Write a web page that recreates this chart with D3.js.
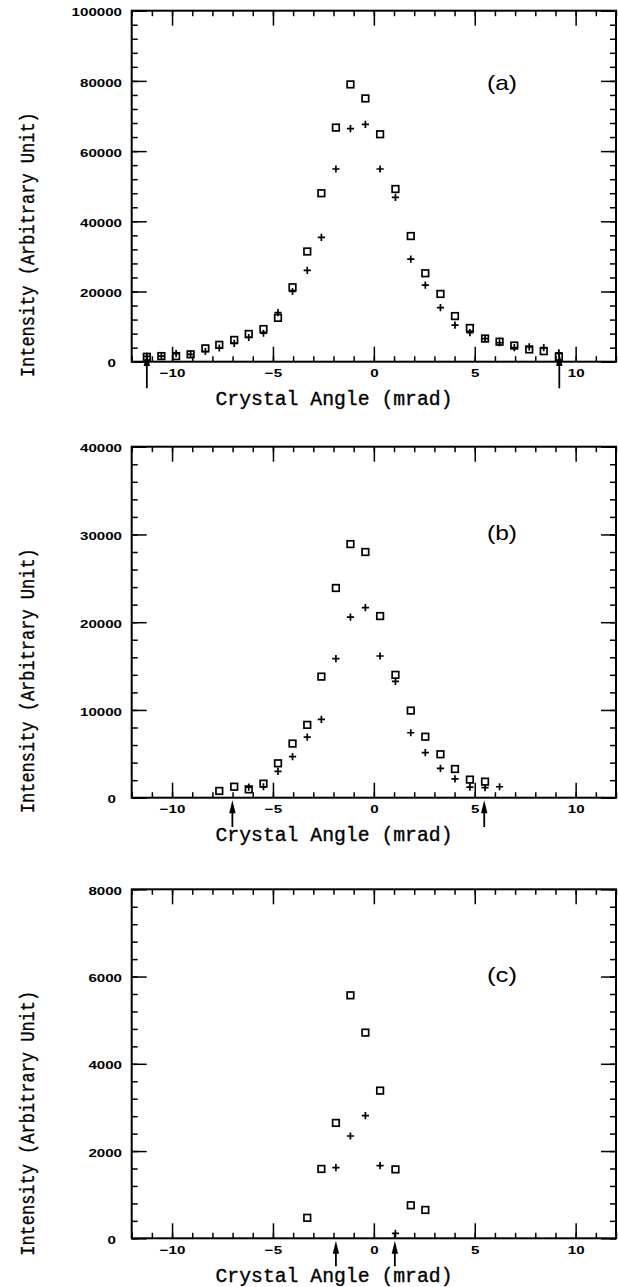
<!DOCTYPE html>
<html><head><meta charset="utf-8">
<script src="https://cdn.jsdelivr.net/npm/d3@7"></script>
<style>body{margin:0;background:#fff}svg{display:block}</style>
</head><body>
<svg id="chart" width="618" height="1287"></svg>
<script>
// ---------- DATA ----------
const xTickValues = [-10, -5, 0, 5, 10];
const xTickLabels = ["\u221210", "\u22125", "0", "5", "10"];

// Panel (a)
const angleA_sq = [-11.25, -10.53, -9.80, -9.08, -8.35, -7.66, -6.92, -6.20, -5.47, -4.75, -4.03, -3.30, -2.60, -1.88, -1.16, -0.42, 0.31, 1.07, 1.83, 2.55, 3.30, 4.02, 4.76, 5.51, 6.23, 6.96, 7.70, 8.42, 9.17];
const squareA = [1400, 1600, 1600, 2100, 3800, 4800, 6200, 7900, 9300, 12500, 21200, 31400, 48000, 66700, 79000, 75000, 64800, 49200, 35800, 25200, 19300, 13000, 9600, 6600, 5700, 4600, 3500, 3000, 1400];
const angleA_pl = [-11.25, -10.53, -9.80, -9.08, -8.35, -7.66, -6.92, -6.20, -5.47, -4.75, -4.03, -3.30, -2.60, -1.88, -1.16, -0.42, 0.31, 1.07, 1.83, 2.55, 3.30, 4.02, 4.76, 5.51, 6.23, 6.96, 7.70, 8.42, 9.17];
const plusA = [1500, 1600, 2300, 2100, 2900, 3900, 5200, 6900, 8100, 14000, 20000, 26000, 35400, 54900, 66400, 67600, 54900, 46800, 29200, 21800, 15400, 10400, 8300, 6600, 5400, 4000, 4200, 4000, 2500];
const arrowA = [-11.25, 9.19];
const yTickValuesA = [0, 20000, 40000, 60000, 80000, 100000];
const yTickLabelsA = ["0", "20000", "40000", "60000", "80000", "100000"];

// Panel (b)
const angleB_sq = [-7.66, -6.92, -6.20, -5.47, -4.75, -4.03, -3.30, -2.60, -1.88, -1.16, -0.42, 0.31, 1.07, 1.83, 2.55, 3.30, 4.02, 4.76, 5.51];
const squareB = [770, 1250, 950, 1600, 3920, 6170, 8300, 13800, 23900, 28900, 28000, 20700, 14000, 9930, 6950, 4950, 3270, 2060, 1830];
const angleB_pl = [-6.20, -5.47, -4.75, -4.03, -3.30, -2.60, -1.88, -1.16, -0.42, 0.31, 1.07, 1.83, 2.55, 3.30, 4.02, 4.76, 5.51, 6.23];
const plusB = [1200, 1250, 3000, 4670, 6900, 8930, 15860, 20570, 21650, 16150, 13250, 7400, 5130, 3350, 2150, 1200, 1140, 1250];
const arrowB = [-7.01, 5.47];
const yTickValuesB = [0, 10000, 20000, 30000, 40000];
const yTickLabelsB = ["0", "10000", "20000", "30000", "40000"];

// Panel (c)
const angleC_sq = [-3.30, -2.60, -1.88, -1.16, -0.42, 0.31, 1.07, 1.83, 2.55];
const squareC = [470, 1590, 2645, 5570, 4715, 3385, 1580, 757, 650];
const angleC_pl = [-1.88, -1.16, -0.42, 0.31, 1.07];
const plusC = [1620, 2345, 2810, 1665, 115];
const arrowC = [-1.88, 1.04];
const yTickValuesC = [0, 2000, 4000, 6000, 8000];
const yTickLabelsC = ["0", "2000", "4000", "6000", "8000"];

const xTitle = "Crystal Angle (mrad)";
const yTitle = "Intensity (Arbitrary Unit)";

// ---------- LAYOUT / STYLE ----------
const X0 = 131.7, X1 = 616;
const panels = [
  {top: 10.7, bottom: 361.7, ymax: 100000, minor: 4000, yv: yTickValuesA, yl: yTickLabelsA,
   sqX: angleA_sq, sqY: squareA, plX: angleA_pl, plY: plusA, arrows: arrowA, tag: "(a)", tagFrac: 0.79, tip: -8.7, tail: 26.6},
  {top: 446.7, bottom: 797.7, ymax: 40000, minor: 2000, yv: yTickValuesB, yl: yTickLabelsB,
   sqX: angleB_sq, sqY: squareB, plX: angleB_pl, plY: plusB, arrows: arrowB, tag: "(b)", tagFrac: 0.75, tip: 2.5, tail: 29.3},
  {top: 889.3, bottom: 1238.3, ymax: 8000, minor: 400, yv: yTickValuesC, yl: yTickLabelsC,
   sqX: angleC_sq, sqY: squareC, plX: angleC_pl, plY: plusC, arrows: arrowC, tag: "(c)", tagFrac: 0.75, tip: 2.5, tail: 28}
];

const svg = d3.select("#chart");
const x = d3.scaleLinear().domain([-12, 12]).range([X0, X1]);
const xMinor = d3.range(-12, 12.01, 1);
const SX = 1.28;
const tickFont = "'Liberation Sans', Arial, sans-serif";
const titleFont = "'Liberation Mono', 'DejaVu Sans Mono', monospace";

panels.forEach(p => {
  const y = d3.scaleLinear().domain([0, p.ymax]).range([p.bottom, p.top]);
  const yMinor = d3.range(0, p.ymax + 0.1, p.minor);
  const g = svg.append("g");

  function styleAxis(sel) {
    sel.select(".domain").remove();
    sel.selectAll("line").attr("stroke", "#000").attr("stroke-width", 1.5);
  }
  // minor ticks
  g.append("g").attr("transform", `translate(0,${p.bottom})`)
    .call(d3.axisBottom(x).tickValues(xMinor).tickSize(-5.5).tickSizeOuter(0).tickFormat(""))
    .call(styleAxis);
  g.append("g").attr("transform", `translate(0,${p.top})`)
    .call(d3.axisTop(x).tickValues(xMinor).tickSize(-5.5).tickSizeOuter(0).tickFormat(""))
    .call(styleAxis);
  g.append("g").attr("transform", `translate(${X0},0)`)
    .call(d3.axisLeft(y).tickValues(yMinor).tickSize(-6).tickSizeOuter(0).tickFormat(""))
    .call(styleAxis);
  g.append("g").attr("transform", `translate(${X1},0)`)
    .call(d3.axisRight(y).tickValues(yMinor).tickSize(-6).tickSizeOuter(0).tickFormat(""))
    .call(styleAxis);
  // major ticks
  const xb = g.append("g").attr("transform", `translate(0,${p.bottom})`)
    .call(d3.axisBottom(x).tickValues(xTickValues).tickSize(-15).tickSizeOuter(0)
      .tickFormat((d, i) => xTickLabels[i]))
    .call(styleAxis);
  xb.selectAll("text").attr("y", 15.6).attr("dy", null)
    .attr("transform", `scale(${SX},1)`)
    .attr("font-family", tickFont).attr("font-weight", "bold").attr("font-size", "11.8px").attr("fill", "#000");
  g.append("g").attr("transform", `translate(0,${p.top})`)
    .call(d3.axisTop(x).tickValues(xTickValues).tickSize(-15).tickSizeOuter(0).tickFormat(""))
    .call(styleAxis);
  const yl = g.append("g").attr("transform", `translate(${X0},0)`)
    .call(d3.axisLeft(y).tickValues(p.yv).tickSize(-15).tickSizeOuter(0)
      .tickFormat((d, i) => p.yl[i]))
    .call(styleAxis);
  yl.selectAll("text").attr("x", d => d === 0 ? -15.7 / SX : -9.7 / SX).attr("dy", null).attr("y", 5.1)
    .attr("transform", `scale(${SX},1)`)
    .attr("font-family", tickFont).attr("font-weight", "bold").attr("font-size", "11.8px").attr("fill", "#000");
  g.append("g").attr("transform", `translate(${X1},0)`)
    .call(d3.axisRight(y).tickValues(p.yv).tickSize(-15).tickSizeOuter(0).tickFormat(""))
    .call(styleAxis);

  // frame
  g.append("rect").attr("x", X0).attr("y", p.top).attr("width", X1 - X0).attr("height", p.bottom - p.top)
    .attr("fill", "none").attr("stroke", "#000").attr("stroke-width", 2);

  // squares
  g.append("g").selectAll("rect").data(p.sqX.map((a, i) => [a, p.sqY[i]])).join("rect")
    .attr("x", d => x(d[0]) - 3.3).attr("y", d => y(d[1]) - 3.3)
    .attr("width", 6.6).attr("height", 6.6)
    .attr("fill", "none").attr("stroke", "#000").attr("stroke-width", 1.7);
  // pluses
  g.append("g").selectAll("path").data(p.plX.map((a, i) => [a, p.plY[i]])).join("path")
    .attr("d", d => `M${x(d[0]) - 3.6},${y(d[1])}H${x(d[0]) + 3.6}M${x(d[0])},${y(d[1]) - 3.6}V${y(d[1]) + 3.6}`)
    .attr("fill", "none").attr("stroke", "#000").attr("stroke-width", 1.7);

  // arrows
  p.arrows.forEach(a => {
    const ax = x(a), tipY = p.bottom + p.tip, tailY = p.bottom + p.tail;
    g.append("line").attr("x1", ax).attr("x2", ax).attr("y1", tipY + 8).attr("y2", tailY)
      .attr("stroke", "#000").attr("stroke-width", 1.8);
    g.append("path").attr("d", `M${ax},${tipY}L${ax - 3.2},${tipY + 13}L${ax + 3.2},${tipY + 13}Z`).attr("fill", "#000");
  });

  // panel tag
  const tagY = y(p.ymax * p.tagFrac);
  g.append("text").attr("x", 502).attr("y", tagY + 5.5).attr("text-anchor", "middle")
    .attr("font-family", tickFont).attr("font-size", "21px").attr("fill", "#000")
    .attr("textLength", 30).attr("lengthAdjust", "spacingAndGlyphs").text(p.tag);

  // axis titles
  g.append("text").attr("x", 334).attr("y", p.bottom + 43.5).attr("text-anchor", "middle")
    .attr("font-family", titleFont).attr("font-size", "20px").attr("fill", "#000")
    .attr("stroke", "#000").attr("stroke-width", 0.35)
    .attr("textLength", 237).attr("lengthAdjust", "spacingAndGlyphs").text(xTitle);
  const cy = p.top + 234;
  g.append("text").attr("transform", `translate(34,${cy}) rotate(-90)`).attr("text-anchor", "middle")
    .attr("font-family", titleFont).attr("font-size", "20px").attr("fill", "#000")
    .attr("stroke", "#000").attr("stroke-width", 0.35)
    .attr("textLength", 265).attr("lengthAdjust", "spacingAndGlyphs").text(yTitle);
});
</script>
</body></html>
